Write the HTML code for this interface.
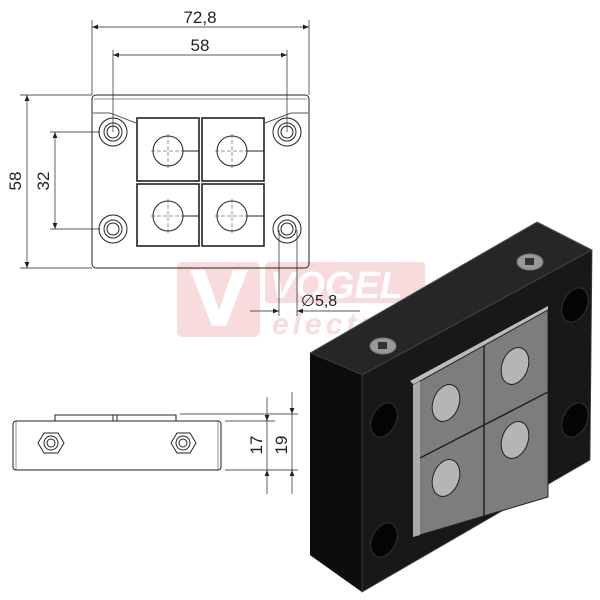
<!DOCTYPE html>
<html><head><style>
html,body{margin:0;padding:0;background:#fff;width:600px;height:600px;overflow:hidden}
svg{display:block}
text{font-family:"Liberation Sans",sans-serif;fill:#222}
</style></head><body>
<svg width="600" height="600" viewBox="0 0 600 600" xmlns="http://www.w3.org/2000/svg">
<defs>
<marker id="a" viewBox="0 0 10 10" refX="10" refY="5" markerWidth="9" markerHeight="6" orient="auto-start-reverse" markerUnits="userSpaceOnUse"><path d="M0,1 L10,5 L0,9z" fill="#222"/></marker>
</defs>
<!-- watermark -->
<g opacity="0.45">
<rect x="177" y="262" width="83" height="75" rx="6" fill="#f0b0b0"/>
<path d="M190,270 L205,270 L219,310 L233,270 L248,270 L226,326 L212,326Z" fill="#fff"/>
<rect x="265" y="262" width="160" height="41" rx="4" fill="#f0b0b0"/>
<text x="270" y="298" font-size="38" font-weight="bold" font-style="italic" style="fill:#fff">VOGEL</text>
<text x="272" y="334" font-size="30" font-weight="bold" font-style="italic" letter-spacing="4" style="fill:#f0b0b0">electric</text>
</g>
<g stroke="#222" fill="none" stroke-width="1">
<!-- top view -->
<rect x="92" y="95" width="217" height="173" rx="4"/>
<line x1="94" y1="99" x2="307" y2="99" stroke-width="0.6"/>
<path d="M93,113 L110,113 L136,123 M308,113 L291,113 L265,123" stroke-width="0.7"/>
<g stroke-width="1"><circle cx="113" cy="132" r="14"/><circle cx="113" cy="132" r="9"/><circle cx="113" cy="132" r="6"/>
<circle cx="287" cy="132" r="14"/><circle cx="287" cy="132" r="9"/><circle cx="287" cy="132" r="6"/>
<circle cx="113" cy="229" r="14"/><circle cx="113" cy="229" r="9"/><circle cx="113" cy="229" r="6"/>
<circle cx="287" cy="229" r="14"/><circle cx="287" cy="229" r="9"/><circle cx="287" cy="229" r="6"/></g>
<g stroke-width="1.6"><rect x="137" y="118" width="62" height="63"/><rect x="202" y="118" width="62" height="63"/>
<rect x="137" y="184" width="62" height="62"/><rect x="202" y="184" width="62" height="62"/></g>
<g><circle cx="168" cy="151" r="15"/><circle cx="232" cy="151" r="15"/><circle cx="168" cy="216" r="15"/><circle cx="232" cy="216" r="15"/>
<path d="M183,151H199M247,151H264M183,216H199M247,216H264"/></g>
<g stroke-width="0.5" stroke-dasharray="4,2"><path d="M168,134V168M151,151H185M232,134V168M215,151H249M168,199V233M151,216H185M232,199V233M215,216H249"/></g>
<!-- dims -->
<g stroke-width="0.7">
<path d="M92,20V95M309,20V95M113,50V132M287,50V132"/>
<line x1="92" y1="27" x2="309" y2="27" marker-start="url(#a)" marker-end="url(#a)"/>
<line x1="113" y1="55" x2="287" y2="55" marker-start="url(#a)" marker-end="url(#a)"/>
<path d="M20,95H92M20,268H92M50,132H100M50,229H100"/>
<line x1="27" y1="95" x2="27" y2="268" marker-start="url(#a)" marker-end="url(#a)"/>
<line x1="55" y1="132" x2="55" y2="229" marker-start="url(#a)" marker-end="url(#a)"/>
<path d="M279,230V316M297,230V316"/>
<line x1="250" y1="311" x2="279" y2="311" marker-end="url(#a)"/>
<line x1="360" y1="311" x2="297" y2="311" marker-end="url(#a)"/>
</g>
<!-- side view -->
<rect x="13" y="421" width="208" height="49" rx="3"/>
<path d="M16,421V470M218,421V470" stroke-width="0.5"/>
<path d="M55,421V415H113V421M117,421V415H176V421M113,415H117"/>
<g stroke-width="1"><polygon points="38,443 44,433 58,433 64,443 58,453 44,453"/><circle cx="51" cy="443" r="7"/><circle cx="51" cy="443" r="4"/>
<polygon points="171,443 177,433 190,433 196,443 190,453 177,453"/><circle cx="183" cy="443" r="7"/><circle cx="183" cy="443" r="4"/></g>
<g stroke-width="0.7">
<path d="M225,421H275M180,414H298M225,470H298"/>
<line x1="267" y1="397" x2="267" y2="421" marker-end="url(#a)"/>
<line x1="267" y1="494" x2="267" y2="470" marker-end="url(#a)"/>
<line x1="267" y1="421" x2="267" y2="470"/>
<line x1="292" y1="392" x2="292" y2="414" marker-end="url(#a)"/>
<line x1="292" y1="494" x2="292" y2="470" marker-end="url(#a)"/>
<line x1="292" y1="414" x2="292" y2="470"/>
</g>
</g>
<text x="200" y="23" font-size="17" text-anchor="middle">72,8</text>
<text x="200" y="51" font-size="17" text-anchor="middle">58</text>
<text transform="translate(21,181) rotate(-90)" font-size="17" text-anchor="middle">58</text>
<text transform="translate(49,181) rotate(-90)" font-size="17" text-anchor="middle">32</text>
<text x="301" y="306" font-size="16">∅5,8</text>
<text transform="translate(262,445) rotate(-90)" font-size="17" text-anchor="middle">17</text>
<text transform="translate(287,445) rotate(-90)" font-size="17" text-anchor="middle">19</text>
<!-- 3D -->
<polygon points="310,353 537,222 592,250 590,460 362,592 310,555" fill="#111"/>
<polygon points="310,353 537,222 592,250 362,375" fill="#262626" stroke="#555" stroke-width="1" stroke-linejoin="round"/>
<polygon points="310,353 362,375 362,592 310,555" fill="#0c0c0c"/>
<polygon points="362,375 592,250 590,460 362,592" fill="#181818" stroke="#444" stroke-width="0.8"/>
<g fill="#050505" stroke="#333">
<ellipse cx="384" cy="420" rx="12" ry="18" transform="rotate(25 384 420)"/>
<ellipse cx="575" cy="305" rx="12" ry="18" transform="rotate(25 575 305)"/>
<ellipse cx="384" cy="540" rx="12" ry="18" transform="rotate(25 384 540)"/>
<ellipse cx="575" cy="420" rx="12" ry="18" transform="rotate(25 575 420)"/>
</g>
<g stroke="#777" fill="#999"><ellipse cx="383" cy="346" rx="13" ry="8"/><ellipse cx="530" cy="262" rx="13" ry="8"/></g>
<g fill="#333"><rect x="378" y="342" width="9" height="7"/><rect x="525" y="258" width="9" height="7"/></g>
<polygon points="410,381 548,306 548,310 414,385" fill="#bbb"/>
<polygon points="413,385 548,310 548,497 413,537" fill="#7d7d7d" stroke="#222"/>
<polygon points="413,385 420,381 420,535 413,537" fill="#aaa"/>
<path d="M484,346V516M420,458L548,392" stroke="#222" stroke-width="1.5"/>
<g fill="#b5b5b5" stroke="#222">
<ellipse cx="446" cy="403" rx="13" ry="19" transform="rotate(20 446 403)"/>
<ellipse cx="515" cy="366" rx="13" ry="19" transform="rotate(20 515 366)"/>
<ellipse cx="446" cy="478" rx="13" ry="19" transform="rotate(20 446 478)"/>
<ellipse cx="515" cy="440" rx="13" ry="19" transform="rotate(20 515 440)"/>
</g>
</svg>
</body></html>
